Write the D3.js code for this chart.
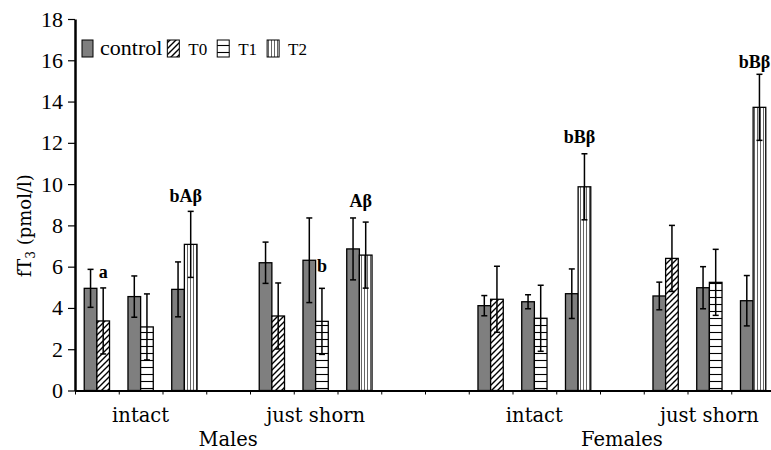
<!DOCTYPE html>
<html>
<head>
<meta charset="utf-8">
<script src="https://cdn.jsdelivr.net/npm/d3@7/dist/d3.min.js"></script>
<style>
  body { margin: 0; background: #fff; }
  svg { display: block; }
</style>
</head>
<body>
<div id="chart"></div>
<script>
// ---- data ----
var groups = ["intact", "just shorn", "intact", "just shorn"];
var sexOfGroup = ["Males", "Males", "Females", "Females"];
var treatments = ["T0", "T1", "T2"];
var legendNames = ["control", "T0", "T1", "T2"];
// x categories of the source chart, -1 = empty category
var slotGroup = [0, 0, 0, -1, 1, 1, 1, -1, -1, 2, 2, 2, -1, 3, 3, 3];

// one value per (group, treatment) pair, in group order
var controlMean = [4.95, 4.55, 4.90, 6.19, 6.31, 6.86, 4.11, 4.30, 4.69, 4.58, 4.98, 4.35];
var controlErr  = [0.92, 1.00, 1.33, 1.00, 2.05, 1.50, 0.49, 0.34, 1.20, 0.67, 1.02, 1.22];
var treatMean   = [3.37, 3.08, 7.08, 3.61, 3.35, 6.56, 4.42, 3.50, 9.87, 6.40, 5.24, 13.72];
var treatErr    = [1.6, 1.6, 1.6, 1.6, 1.6, 1.6, 1.6, 1.6, 1.6, 1.6, 1.6, 1.6];

// significance letters: pair index, text, level (pmol/l)
var annPair  = [0, 2, 4, 5, 8, 11];
var annText  = ["a", "bAβ", "b", "Aβ", "bBβ", "bBβ"];
var annLevel = [5.45, 9.12, 5.74, 8.89, 11.99, 15.63];

var yTicks = [0, 2, 4, 6, 8, 10, 12, 14, 16, 18];

// ---- layout ----
var W = 771, H = 450;
var mLeft = 75, mRight = 775, mTop = 19, mBottom = 390.5;

var svg = d3.select("#chart").append("svg")
    .attr("width", W)
    .attr("height", H);

var defs = svg.append("defs");

// T0 diagonal hatch
var p0 = defs.append("pattern").attr("id", "pT0")
    .attr("patternUnits", "userSpaceOnUse").attr("width", 6).attr("height", 6);
p0.append("rect").attr("width", 6).attr("height", 6).attr("fill", "#fff");
p0.append("path").attr("d", "M-1,1 l2,-2 M0,6 l6,-6 M5,7 l2,-2")
    .attr("stroke", "#000").attr("stroke-width", 1.4);

// T1 horizontal lines
var p1 = defs.append("pattern").attr("id", "pT1")
    .attr("patternUnits", "userSpaceOnUse").attr("width", 6).attr("height", 7);
p1.append("rect").attr("width", 6).attr("height", 7).attr("fill", "#fff");
p1.append("line").attr("x1", 0).attr("x2", 6).attr("y1", 3.5).attr("y2", 3.5)
    .attr("stroke", "#000").attr("stroke-width", 1.1);

// T2 vertical lines
var p2 = defs.append("pattern").attr("id", "pT2")
    .attr("patternUnits", "userSpaceOnUse").attr("width", 3).attr("height", 6);
p2.append("rect").attr("width", 3).attr("height", 6).attr("fill", "#fff");
p2.append("line").attr("x1", 1.5).attr("x2", 1.5).attr("y1", 0).attr("y2", 6)
    .attr("stroke", "#555").attr("stroke-width", 0.9);

var fills = {"control": "#7f7f7f", "T0": "url(#pT0)", "T1": "url(#pT1)", "T2": "url(#pT2)"};

var y = d3.scaleLinear().domain([0, 18]).range([mBottom, mTop]);
var xSlot = d3.scaleBand().domain(d3.range(slotGroup.length)).range([mLeft, mRight]);
var xPair = d3.scaleBand().domain(["control", "treat"])
    .range([0, xSlot.bandwidth()]).paddingInner(0).paddingOuter(0.73);
var xLin = d3.scaleLinear().domain([0, slotGroup.length]).range([mLeft, mRight]);

// build bar records
var bars = [];
groups.forEach(function(g, gi) {
    var slots = d3.range(slotGroup.length).filter(function(s) { return slotGroup[s] === gi; });
    treatments.forEach(function(t, ti) {
        var i = gi * 3 + ti;
        bars.push({pair: i, slot: slots[ti], kind: "control", name: "control",
                   v: controlMean[i], e: controlErr[i]});
        bars.push({pair: i, slot: slots[ti], kind: "treat", name: t,
                   v: treatMean[i], e: treatErr[i]});
    });
});

function barX(d) { return xSlot(d.slot) + xPair(d.kind); }

// bars
svg.append("g").selectAll("rect").data(bars).enter().append("rect")
    .attr("x", barX)
    .attr("y", function(d) { return y(d.v); })
    .attr("width", xPair.bandwidth())
    .attr("height", function(d) { return y(0) - y(d.v); })
    .attr("fill", function(d) { return fills[d.name]; })
    .attr("stroke", "#000")
    .attr("stroke-width", 1.3);

// error bars
var eb = svg.append("g").attr("stroke", "#000").attr("stroke-width", 1.5);
bars.forEach(function(d) {
    var cx = barX(d) + xPair.bandwidth() / 2;
    eb.append("line").attr("x1", cx).attr("x2", cx)
        .attr("y1", y(d.v + d.e)).attr("y2", y(d.v - d.e));
    eb.append("line").attr("x1", cx - 3).attr("x2", cx + 3)
        .attr("y1", y(d.v + d.e)).attr("y2", y(d.v + d.e));
    eb.append("line").attr("x1", cx - 3).attr("x2", cx + 3)
        .attr("y1", y(d.v - d.e)).attr("y2", y(d.v - d.e));
});

// significance letters
annPair.forEach(function(p, k) {
    var b = bars.filter(function(d) { return d.pair === p && d.kind === "treat"; })[0];
    var shift = annText[k].length > 1 ? -5 : 0;
    svg.append("text")
        .attr("x", barX(b) + xPair.bandwidth() / 2 + shift)
        .attr("y", y(annLevel[k]))
        .attr("text-anchor", "middle")
        .attr("font-family", "Liberation Serif")
        .attr("font-weight", "bold")
        .attr("font-size", 18)
        .text(annText[k]);
});

// y axis
var yAxis = svg.append("g")
    .attr("transform", "translate(" + mLeft + ",0)")
    .call(d3.axisLeft(y).tickValues(yTicks).tickSize(7).tickPadding(5).tickSizeOuter(0));
yAxis.select(".domain").attr("stroke-width", 2.5);
yAxis.selectAll(".tick line").attr("stroke-width", 1.2);
yAxis.selectAll(".tick text")
    .style("font-family", "'Liberation Serif', 'Times New Roman', serif")
    .style("font-size", "22px")
    .attr("fill", "#000");

// x axis
var xAxis = svg.append("g")
    .attr("transform", "translate(0," + mBottom + ")")
    .call(d3.axisBottom(xLin).tickValues(d3.range(slotGroup.length + 1))
        .tickSize(4).tickSizeOuter(0).tickFormat(""));
xAxis.select(".domain").attr("stroke-width", 2.2);
xAxis.selectAll(".tick line").attr("stroke-width", 1);

// group labels
groups.forEach(function(g, gi) {
    var slots = d3.range(slotGroup.length).filter(function(s) { return slotGroup[s] === gi; });
    var mid = xSlot(slots[1]) + xSlot.bandwidth() / 2;
    svg.append("text").attr("x", mid).attr("y", 422)
        .attr("text-anchor", "middle")
        .attr("font-family", "DejaVu Serif").attr("font-size", 19.5)
        .text(g);
});
var sexes = Array.from(new Set(sexOfGroup));
sexes.forEach(function(s) {
    var slots = d3.range(slotGroup.length).filter(function(k) {
        return slotGroup[k] >= 0 && sexOfGroup[slotGroup[k]] === s;
    });
    var mid = (xSlot(slots[0]) + xSlot(slots[slots.length - 1]) + xSlot.bandwidth()) / 2;
    svg.append("text").attr("x", mid).attr("y", 446)
        .attr("text-anchor", "middle")
        .attr("font-family", "DejaVu Serif").attr("font-size", 19.5)
        .text(s);
});

// y title
var yt = svg.append("text")
    .attr("transform", "translate(31," + ((mTop + mBottom) / 2 + 21) + ") rotate(-90)")
    .attr("text-anchor", "middle")
    .attr("font-family", "DejaVu Serif").attr("font-size", 18);
yt.append("tspan").text("fT");
yt.append("tspan").attr("font-size", 12).attr("dy", 4).text("3");
yt.append("tspan").attr("dy", -4).text(" (pmol/l)");

// legend
var lg = svg.append("g");
var cursor = 82;
legendNames.forEach(function(n, i) {
    var sw = i === 0 ? 11 : 12;
    var gap = i === 0 ? 7 : 9;
    lg.append("rect").attr("x", cursor).attr("y", 40)
        .attr("width", sw).attr("height", 17)
        .attr("fill", fills[n]).attr("stroke", "#000").attr("stroke-width", 1);
    var t = lg.append("text").attr("x", cursor + sw + gap).attr("y", 55)
        .attr("font-family", "Liberation Serif")
        .attr("font-size", i === 0 ? 22 : 17)
        .text(n);
    cursor = cursor + sw + gap + t.node().getComputedTextLength() + (i === 0 ? 5 : 10);
});
</script>
</body>
</html>
